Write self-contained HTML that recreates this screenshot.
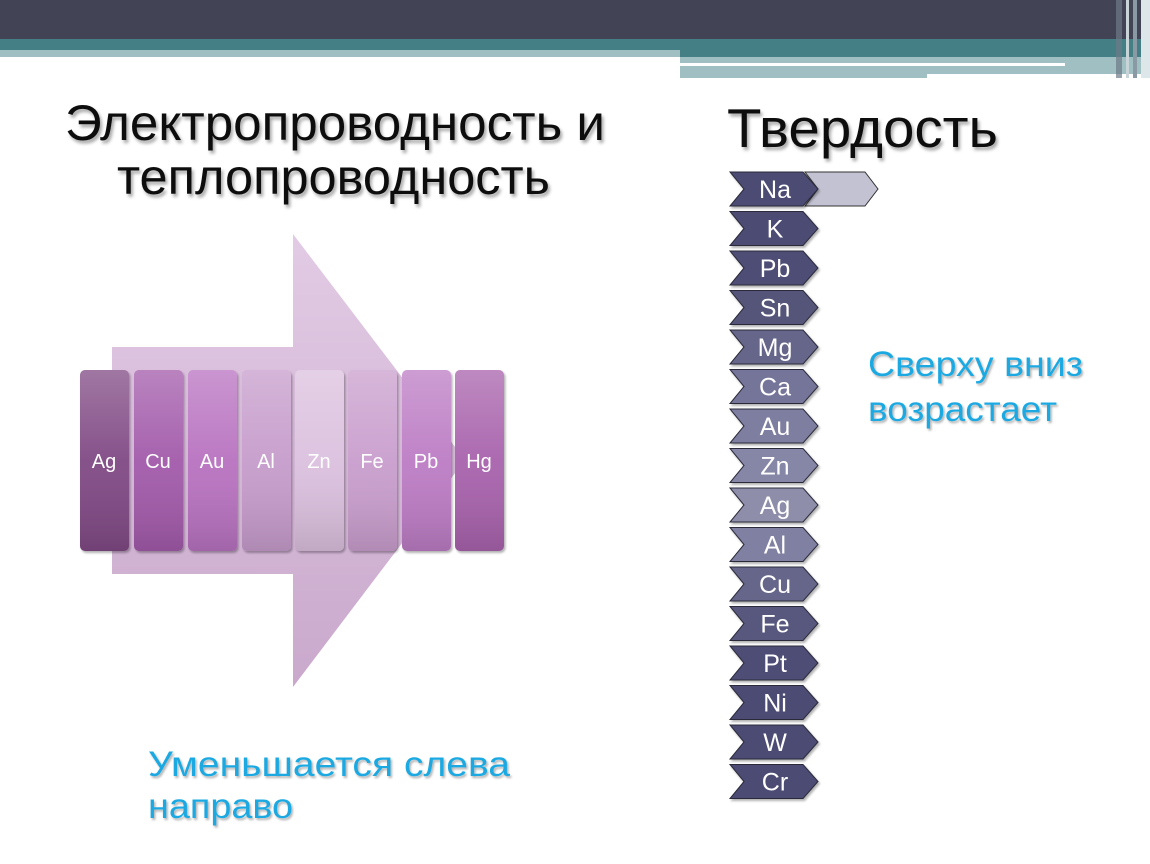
<!DOCTYPE html>
<html><head><meta charset="utf-8"><style>
html,body{margin:0;padding:0;background:#fff;}
svg{display:block;}
text{font-family:"Liberation Sans",Arial,sans-serif;}
</style></head><body>
<svg width="1150" height="864" viewBox="0 0 1150 864" xmlns="http://www.w3.org/2000/svg">
<defs>
<filter id="sh" x="-5%" y="-5%" width="110%" height="120%"><feDropShadow dx="2" dy="3" stdDeviation="1.5" flood-color="#000" flood-opacity="0.35"/></filter>
<filter id="sh2" x="-5%" y="-5%" width="110%" height="120%"><feDropShadow dx="1.5" dy="2" stdDeviation="1" flood-color="#000" flood-opacity="0.3"/></filter>
<linearGradient id="arr" x1="0" y1="0" x2="0" y2="1"><stop offset="0" stop-color="#e2cbe4"/><stop offset="1" stop-color="#c9a8cc"/></linearGradient>
<linearGradient id="gl" x1="0" y1="0" x2="0" y2="1"><stop offset="0" stop-color="#fff" stop-opacity="0.25"/><stop offset="0.5" stop-color="#fff" stop-opacity="0.05"/><stop offset="1" stop-color="#000" stop-opacity="0.12"/></linearGradient>
</defs>
<rect x="0" y="0" width="1150" height="39" fill="#434356"/>
<rect x="0" y="39" width="1150" height="11" fill="#437f84"/>
<rect x="0" y="50" width="680" height="7" fill="#9fbfc3"/>
<rect x="680" y="50" width="470" height="7" fill="#437f84"/>
<rect x="680" y="57" width="470" height="6" fill="#9fbfc3"/>
<rect x="680" y="63" width="385" height="3" fill="#fff"/>
<rect x="1065" y="63" width="85" height="3" fill="#9fbfc3"/>
<rect x="680" y="66" width="470" height="8" fill="#9fbfc3"/>
<rect x="680" y="74" width="247" height="4" fill="#9fbfc3"/>
<rect x="1116" y="0" width="6" height="78" fill="#6d7a88" opacity="0.7"/>
<rect x="1126" y="0" width="3" height="78" fill="#c8d4d8"/>
<rect x="1133" y="0" width="4" height="78" fill="#8a9aa4"/>
<rect x="1141" y="0" width="9" height="78" fill="#dde6e8"/>
<g filter="url(#sh)" fill="#111">
<text x="65" y="140" font-size="50" textLength="540" lengthAdjust="spacingAndGlyphs">Электропроводность и</text>
<text x="117" y="194" font-size="50" textLength="433" lengthAdjust="spacingAndGlyphs">теплопроводность</text>
<text x="727" y="147" font-size="55" textLength="271" lengthAdjust="spacingAndGlyphs">Твердость</text>
</g>
<polygon points="112,347 293,347 293,234 465,460 293,687 293,574 112,574" fill="url(#arr)"/>
<g filter="url(#sh2)">
<rect x="80" y="370" width="49" height="181" rx="5" fill="#804a84"/>
<rect x="134" y="370" width="49" height="181" rx="5" fill="#a25aaa"/>
<rect x="188" y="370" width="49" height="181" rx="5" fill="#b872c0"/>
<rect x="242" y="370" width="49" height="181" rx="5" fill="#c69ccb"/>
<rect x="295" y="370" width="49" height="181" rx="5" fill="#dbc0de"/>
<rect x="348" y="370" width="49" height="181" rx="5" fill="#c99ecd"/>
<rect x="402" y="370" width="49" height="181" rx="5" fill="#bc7cc4"/>
<rect x="455" y="370" width="49" height="181" rx="5" fill="#a862ac"/>
</g>
<g fill="url(#gl)">
<rect x="80" y="370" width="49" height="181" rx="5"/><rect x="134" y="370" width="49" height="181" rx="5"/><rect x="188" y="370" width="49" height="181" rx="5"/><rect x="242" y="370" width="49" height="181" rx="5"/><rect x="295" y="370" width="49" height="181" rx="5"/><rect x="348" y="370" width="49" height="181" rx="5"/><rect x="402" y="370" width="49" height="181" rx="5"/><rect x="455" y="370" width="49" height="181" rx="5"/>
</g>
<g fill="#fff" font-size="20" text-anchor="middle">
<text x="104" y="468">Ag</text><text x="158" y="468">Cu</text><text x="212" y="468">Au</text><text x="266" y="468">Al</text><text x="319" y="468">Zn</text><text x="372" y="468">Fe</text><text x="426" y="468">Pb</text><text x="479" y="468">Hg</text>
</g>
<polygon points="805,172 865,172 878,189 865,206 805,206 818,189" fill="#c2c2d2" stroke="#333" stroke-width="1"/>
<g stroke="#2a2a3a" stroke-width="1" filter="url(#sh2)">
<polygon points="730,172 803,172 818,189 803,206 730,206 744,189" fill="#4b4b73"/>
<polygon points="730,211.5 803,211.5 818,228.5 803,245.5 730,245.5 744,228.5" fill="#4b4b73"/>
<polygon points="730,251 803,251 818,268 803,285 730,285 744,268" fill="#4d4d75"/>
<polygon points="730,290.5 803,290.5 818,307.5 803,324.5 730,324.5 744,307.5" fill="#55557a"/>
<polygon points="730,330 803,330 818,347 803,364 730,364 744,347" fill="#66668a"/>
<polygon points="730,369.5 803,369.5 818,386.5 803,403.5 730,403.5 744,386.5" fill="#74749a"/>
<polygon points="730,409 803,409 818,426 803,443 730,443 744,426" fill="#7e7ea0"/>
<polygon points="730,448.5 803,448.5 818,465.5 803,482.5 730,482.5 744,465.5" fill="#8686a6"/>
<polygon points="730,488 803,488 818,505 803,522 730,522 744,505" fill="#8e8eaa"/>
<polygon points="730,527.5 803,527.5 818,544.5 803,561.5 730,561.5 744,544.5" fill="#8080a2"/>
<polygon points="730,567 803,567 818,584 803,601 730,601 744,584" fill="#66668a"/>
<polygon points="730,606.5 803,606.5 818,623.5 803,640.5 730,640.5 744,623.5" fill="#58587e"/>
<polygon points="730,646 803,646 818,663 803,680 730,680 744,663" fill="#4d4d75"/>
<polygon points="730,685.5 803,685.5 818,702.5 803,719.5 730,719.5 744,702.5" fill="#4b4b73"/>
<polygon points="730,725 803,725 818,742 803,759 730,759 744,742" fill="#4b4b73"/>
<polygon points="730,764.5 803,764.5 818,781.5 803,798.5 730,798.5 744,781.5" fill="#4b4b73"/>
</g>
<g fill="#fff" font-size="25" text-anchor="middle">
<text x="775" y="198">Na</text><text x="775" y="237.5">K</text><text x="775" y="277">Pb</text><text x="775" y="316.5">Sn</text><text x="775" y="356">Mg</text><text x="775" y="395.5">Ca</text><text x="775" y="435">Au</text><text x="775" y="474.5">Zn</text><text x="775" y="514">Ag</text><text x="775" y="553.5">Al</text><text x="775" y="593">Cu</text><text x="775" y="632.5">Fe</text><text x="775" y="672">Pt</text><text x="775" y="711.5">Ni</text><text x="775" y="751">W</text><text x="775" y="790.5">Cr</text>
</g>
<g fill="#1ea9e2" font-size="35" filter="url(#sh2)">
<text x="868" y="376" textLength="215" lengthAdjust="spacingAndGlyphs">Сверху  вниз</text>
<text x="868" y="421" textLength="189" lengthAdjust="spacingAndGlyphs">возрастает</text>
<text x="148" y="776" textLength="362" lengthAdjust="spacingAndGlyphs">Уменьшается   слева</text>
<text x="148" y="818" textLength="145" lengthAdjust="spacingAndGlyphs">направо</text>
</g>
</svg>
</body></html>
